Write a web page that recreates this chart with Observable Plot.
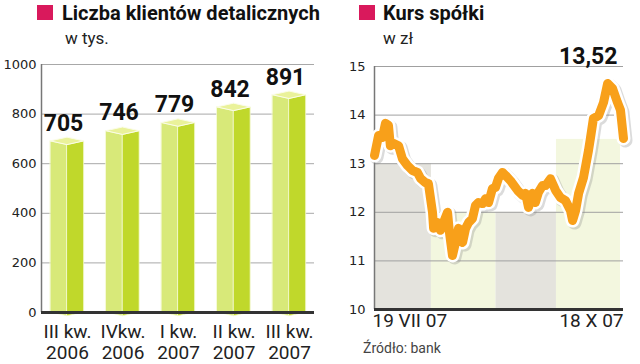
<!DOCTYPE html>
<html><head><meta charset="utf-8">
<script src="https://cdn.jsdelivr.net/npm/d3@7"></script>
<script src="https://cdn.jsdelivr.net/npm/@observablehq/plot@0.6"></script>
<style>
body{margin:0;background:#fff;}
#wrap{position:relative;width:640px;height:364px;overflow:hidden;font-family:Roboto,sans-serif;background:#fff;}
.sq{position:absolute;width:16px;height:15px;background:#d9195c;}
.title{position:absolute;font-weight:700;font-size:20px;color:#111;white-space:nowrap;line-height:1;}
.sub{position:absolute;font-size:17px;color:#222;white-space:nowrap;line-height:1;}
.src{position:absolute;font-size:14px;color:#444;white-space:nowrap;line-height:1;font-family:"Liberation Sans Narrow","Roboto",sans-serif;}
#left,#right{position:absolute;top:0;}
#left{left:0;} #right{left:320px;}
</style></head><body>
<div id="wrap">
  <div class="sq" style="left:37px;top:5px"></div>
  <div class="title" style="left:62px;top:3px">Liczba klientów detalicznych</div>
  <div class="sub" style="left:65px;top:30px">w tys.</div>
  <div class="sq" style="left:359px;top:5px"></div>
  <div class="title" style="left:383px;top:3px">Kurs spółki</div>
  <div class="sub" style="left:383px;top:30px">w zł</div>
  <div id="left"></div>
  <div id="right"></div>
  <div class="src" style="left:363px;top:341px">Źródło: bank</div>
</div>
<script>
// ---- Left chart data ----
const quarters = ["III kw.\n2006","IVkw.\n2006","I kw.\n2007","II kw.\n2007","III kw.\n2007"];
const clients = [705, 746, 779, 842, 891];
const clientTicks = [0, 200, 400, 600, 800, 1000];

// ---- Right chart data ----
const dateLabels = ["19 VII 07", "18 X 07"];
const days = [0,1.5,2.9,4.0,5.1,5.8,6.9,8.8,10.2,12.1,13.9,15.7,16.8,18.6,19.7,21.2,21.6,23.0,24.1,25.2,26.7,27.4,28.5,29.6,30.7,32.2,33.3,34.4,35.8,36.9,38.0,39.5,40.6,41.7,43.1,44.2,45.3,46.8,47.9,49.7,52.3,54.1,55.2,56.3,57.7,58.8,59.9,61.4,62.5,64.3,66.2,68.0,69.8,71.6,72.4,73.5,74.6,76.4,78.2,78.9,80.0,81.9,83.7,85.2,87.0,88.8,89.9,91];
const price = [13.17,13.58,13.54,13.83,13.79,13.37,13.42,13.37,13.10,12.96,12.86,12.82,12.70,12.61,12.59,12.00,11.67,11.79,11.63,11.79,12.00,11.58,11.11,11.38,11.67,11.38,11.67,11.79,11.87,12.14,12.20,12.18,12.28,12.20,12.49,12.51,12.70,12.82,12.76,12.65,12.45,12.35,12.39,12.10,12.39,12.20,12.41,12.55,12.55,12.69,12.45,12.30,12.24,12.04,11.83,12.04,12.39,12.72,13.27,13.52,13.93,13.99,14.26,14.65,14.55,14.26,14.10,13.52];
const priceTicks = [10, 11, 12, 13, 14, 15];
const bandStart = [0, 20.8, 44.4, 66.5];
const bandEnd = [20.8, 44.4, 66.5, 89.9];
const bandTop = [13.0, 12.0, 12.0, 13.5];

// ---------- LEFT ----------
const hw = 0.3, cap = 15;
const xDomL = [-0.468, 4.45];
const leftFace = clients.flatMap((v,i)=>[{i, x:i-hw, y1:0, y2:v-cap},{i, x:i, y1:-cap, y2:v-2*cap}]);
const rightFace = clients.flatMap((v,i)=>[{i, x:i, y1:-cap, y2:v-2*cap},{i, x:i+hw, y1:0, y2:v-cap}]);
const capPts = clients.flatMap((v,i)=>[{i, x:i-hw, y1:v-cap, y2:v-cap},{i, x:i, y1:v-2*cap, y2:v},{i, x:i+hw, y1:v-cap, y2:v-cap}]);
const barData = clients.map((v,i)=>({i, v, q: quarters[i]}));

const left = Plot.plot({
  width: 320, height: 364,
  marginLeft: 41, marginRight: 6, marginTop: 64, marginBottom: 52,
  style: {fontFamily: "Roboto, sans-serif", background: "transparent"},
  x: {domain: xDomL, axis: null},
  y: {domain: [0, 1000], axis: null},
  marks: [
    Plot.ruleY(clientTicks.slice(1), {stroke: "#a8a8a8", strokeWidth: 1}),
    Plot.ruleX([xDomL[0]], {stroke: "#777", strokeWidth: 1.5}),
    Plot.axisY({ticks: clientTicks, tickFormat: d => String(d), tickSize: 0, tickPadding: 5, fontSize: 13, fontFamily: "DejaVu Sans", fill: "#222", label: null}),
    Plot.areaY(leftFace, {x: "x", y1: "y1", y2: "y2", z: "i", fill: "#d8e979", stroke: "#f4f9d0", strokeWidth: 0.8}),
    Plot.areaY(rightFace, {x: "x", y1: "y1", y2: "y2", z: "i", fill: "#c0d82b", stroke: "#f4f9d0", strokeWidth: 0.8}),
    Plot.areaY(capPts, {x: "x", y1: "y1", y2: "y2", z: "i", fill: "#eaf29a", stroke: "#fbfde8", strokeWidth: 1}),
    Plot.ruleY([0], {stroke: "#333", strokeWidth: 3}),
    Plot.text(barData, {x: "i", y: "v", text: d => String(d.v), dx: -4, dy: -7, lineAnchor: "bottom", fontSize: 23, fontWeight: "bold", fill: "#111"}),
    Plot.text(barData, {x: "i", y: () => 0, text: "q", lineAnchor: "top", dy: 10, fontSize: 19, lineHeight: 1.12, fill: "#222"})
  ]
});
document.getElementById("left").appendChild(left);

// ---------- RIGHT ----------
const series = days.map((d,k)=>({day: d, p: price[k]}));
const bands = bandStart.map((s,k)=>({x1: s, x2: bandEnd[k], top: bandTop[k], c: k % 2 === 0 ? "#e4e3dd" : "#f3f7df"}));
const last = series[series.length - 1];
const firstLbl = [{t: dateLabels[0], day: days[0]}];
const lastLbl = [{t: dateLabels[1], day: days[days.length-1]}];

const right = Plot.plot({
  width: 320, height: 364,
  marginLeft: 54, marginRight: 17, marginTop: 66, marginBottom: 55,
  style: {fontFamily: "Roboto, sans-serif", background: "transparent", overflow: "visible"},
  x: {domain: [days[0], days[days.length-1]], axis: null},
  y: {domain: [10, 15], axis: null},
  marks: [
    Plot.rectY(bands, {x1: "x1", x2: "x2", y1: () => 10, y2: "top", fill: "c"}),
    Plot.ruleY(priceTicks.slice(1), {stroke: "#a0a0a0", strokeWidth: 1}),
    Plot.ruleX([days[0]], {stroke: "#777", strokeWidth: 1.5}),
    Plot.axisY({ticks: priceTicks, tickFormat: d => String(d), tickSize: 0, tickPadding: 9, fontSize: 13, fontFamily: "DejaVu Sans", fill: "#222", label: null}),
    Plot.line(series, {x: "day", y: "p", stroke: "#888", strokeOpacity: 0.3, strokeWidth: 14, dx: 2, dy: 2, strokeLinejoin: "round", strokeLinecap: "round"}),
    Plot.line(series, {x: "day", y: "p", stroke: "#fff", strokeWidth: 14, strokeLinejoin: "round", strokeLinecap: "round"}),
    Plot.line(series, {x: "day", y: "p", stroke: "#f8a01a", strokeWidth: 9, strokeLinejoin: "round", strokeLinecap: "round"}),
    Plot.ruleY([10], {stroke: "#333", strokeWidth: 3}),
    Plot.text([last], {x: "day", y: () => 15, text: d => d.p.toFixed(2).replace(".", ","), textAnchor: "end", dx: -6, dy: -3, lineAnchor: "bottom", fontSize: 23, fontWeight: "bold", fill: "#111"}),
    Plot.text(firstLbl, {x: "day", y: () => 10, text: "t", textAnchor: "start", lineAnchor: "top", dy: 4, dx: -2, fontSize: 19, fill: "#222"}),
    Plot.text(lastLbl, {x: "day", y: () => 10, text: "t", textAnchor: "end", lineAnchor: "top", dy: 4, dx: 0, fontSize: 19, fill: "#222"})
  ]
});
document.getElementById("right").appendChild(right);
</script>
</body></html>
